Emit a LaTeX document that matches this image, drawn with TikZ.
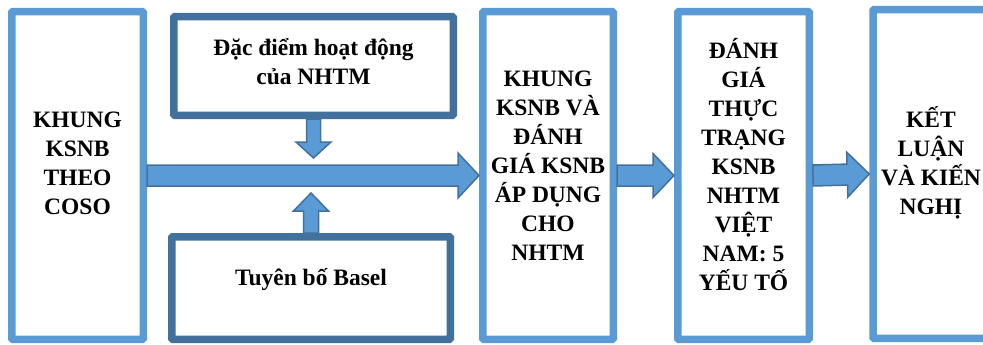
\documentclass[tikz,border=0pt]{standalone}
\usepackage{fontspec}
\setmainfont{Liberation Serif}
\usetikzlibrary{calc}

\definecolor{boxblue}{HTML}{5B9BD5}
\definecolor{edgeblue}{HTML}{41719C}

\tikzset{
  panel/.style={draw=boxblue, line width=7.5pt, rounded corners=1pt, inner sep=0pt, fill=white},
  darkpanel/.style={panel, draw=edgeblue},
  txt/.style={align=center, inner sep=0pt, font=\fontsize{23.5}{29}\selectfont\bfseries},
  fatarrow/.style={fill=boxblue, draw=edgeblue, line width=1.5pt},
}

\begin{document}
\begin{tikzpicture}[x=1pt, y=-1pt]
    \clip (0,0) rectangle (983,345);

    % the five columns and the two input boxes
    \node[panel, minimum width=131.5, minimum height=327.5] (coso) at (77.5,175.5) {};
    \node[darkpanel, minimum width=279.5, minimum height=98.5] (dacdiem) at (313.5,66) {};
    \node[darkpanel, minimum width=278.5, minimum height=102.5] (basel) at (311,288) {};
    \node[panel, minimum width=130.5, minimum height=327.5] (khung) at (548,175.5) {};
    \node[panel, minimum width=131.5, minimum height=327.5] (danhgia) at (743.5,175.5) {};
    \node[panel, minimum width=116, minimum height=328.5] (ketluan) at (931,174) {};

    \node[txt] (coso-txt) at ([yshift=12]coso.center) {KHUNG\\KSNB\\THEO\\COSO};
    \node[txt] (dacdiem-txt) at ([yshift=4]dacdiem.center) {Đặc điểm hoạt động\\của NHTM};
    \node[txt] (basel-txt) at ([yshift=9]basel.center) {Tuyên bố Basel};
    \node[txt] (khung-txt) at ([yshift=10]khung.center) {KHUNG\\KSNB VÀ\\ĐÁNH\\GIÁ KSNB\\ÁP DỤNG\\CHO\\NHTM};
    \node[txt] (danhgia-txt) at ([yshift=11]danhgia.center) {ĐÁNH\\GIÁ\\THỰC\\TRẠNG\\KSNB\\NHTM\\VIỆT\\NAM: 5\\YẾU TỐ};
    \node[txt] (ketluan-txt) at ([yshift=11]ketluan.center) {KẾT\\LUẬN\\VÀ KIẾN\\NGHỊ};

    % where the side arrows stop, just off the main shaft
    \coordinate (in-top) at ([yshift=-39pt]dacdiem.south);
    \coordinate (in-bot) at ([yshift=40pt]basel.north);

    % block arrows: from/to/shaft half width/head half width/head length
    \foreach \from/\to/\sw/\hw/\hl in {
        coso.east/khung.west/10.5/22.5/21,
        khung.east/danhgia.west/10.5/22/21,
        danhgia.east/ketluan.west/10.5/22.5/22,
        dacdiem.south/in-top/7/17.5/16,
        basel.north/in-bot/7.5/17.5/18} {
        \path (\to) coordinate (tip) ($(\to)!\hl pt!(\from)$) coordinate (base);
        \draw[fatarrow] ($(\from)!\sw pt!90:(\to)$) -- ($(base)!\sw pt!90:(tip)$)
            -- ($(base)!\hw pt!90:(tip)$) -- (tip) -- ($(base)!\hw pt!-90:(tip)$)
            -- ($(base)!\sw pt!-90:(tip)$) -- ($(\from)!\sw pt!-90:(\to)$) -- cycle;
    }
\end{tikzpicture}
\end{document}
